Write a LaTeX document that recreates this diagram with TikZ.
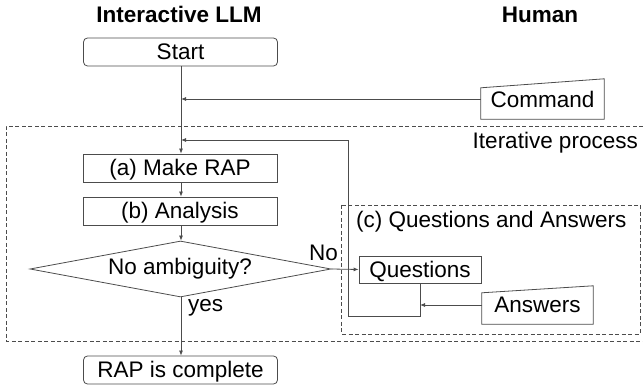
\documentclass[tikz,border=0pt]{standalone}
\usepackage{fontspec}
\setmainfont{Liberation Sans}
\usetikzlibrary{arrows.meta,shapes.geometric}
\begin{document}
\begin{tikzpicture}[x=1pt,y=-1pt,
  font=\fontsize{22.5}{26}\selectfont,
  ln/.style={draw=black!70, line width=0.8pt},
  arr/.style={ln, -{Latex[length=5pt,width=4pt]}},
  dsh/.style={draw=black!70, line width=0.7pt, dash pattern=on 4pt off 2.5pt},
  stepbox/.style={draw=black!70, line width=0.8pt, minimum width=194pt, minimum height=28pt, inner sep=0pt, text height=16pt, text depth=0pt},
  termbox/.style={stepbox, rounded corners=4pt},
  txt/.style={inner sep=0pt},
  ttl/.style={inner sep=0pt, font=\fontsize{22.5}{26}\selectfont\bfseries},
]
\useasboundingbox (0,0) rectangle (643,387);
% titles
\node[ttl, anchor=base] (tllm) at (179,23) {Interactive LLM};
\node[ttl, anchor=base] (thum) at (540,23) {Human};
% outer dashed region (right side cut by the picture edge)
\draw[dsh] (643,126) -- (6,126) -- (6,341) -- (643,341);
\node[txt, anchor=base east] (iter) at (638,149) {Iterative process};
% (c) region
\draw[dsh] (341,205) rectangle (640,334);
\node[txt, anchor=base west] (clab) at (356,228) {(c) Questions and Answers};
% LLM column
\node[termbox] (start) at (180.5,52) {Start};
\node[stepbox] (a) at (180,168) {(a) Make RAP};
\node[stepbox] (b) at (180,211) {(b) Analysis};
\node[draw=black!70, line width=0.8pt, shape=diamond, aspect=5.37, minimum width=301pt, minimum height=56pt, inner sep=0pt] (d) at (180.5,269) {};
\node[txt] (dtxt) at (180,269) {No ambiguity?};
\node[termbox] (done) at (180.5,370) {RAP is complete};
% Human column
\node[minimum width=123pt, minimum height=40pt, inner sep=0pt] (cmd) at (542.5,99) {\raisebox{-5pt}{Command}};
\draw[ln] (cmd.south west) -- (cmd.south east) -- (cmd.north east) -- ([yshift=-9pt]cmd.north west) -- cycle;
\node[draw=black!70, line width=0.8pt, minimum width=122pt, minimum height=27pt, inner sep=0pt, text height=16pt, text depth=0pt] (q) at (420,269.5) {Questions};
\node[minimum width=111pt, minimum height=38pt, inner sep=0pt] (ans) at (537.5,305) {\raisebox{-4.5pt}{Answers}};
\draw[ln] (ans.south west) -- (ans.south east) -- (ans.north east) -- ([yshift=-7pt]ans.north west) -- cycle;
% connectors
\coordinate (cmdin) at (181,99);
\coordinate (loopin) at (181,140);
\coordinate (qturn) at (420,316);
\coordinate (lb) at (348,316);
\coordinate (lt) at (348,140);
\coordinate (ansin) at (420,305);
\draw[arr] (start.south -| cmdin) -- (cmdin |- a.north);
\draw[arr] (cmd.west) -- (cmdin);
\draw[ln] (q.south) -- (qturn) -- (lb) -- (lt);
\draw[arr] (lt) -- (loopin);
\draw[arr] (a.south -| cmdin) -- (b.north -| cmdin);
\draw[arr] (b.south -| cmdin) -- (d.north -| cmdin);
\draw[arr] (d.east) -- (q.west);
\draw[arr] (ans.west) -- (ansin);
\draw[arr] (d.south -| cmdin) -- (done.north -| cmdin);
\node[txt] (no) at (323.5,253) {No};
\node[txt, anchor=base west] (yes) at (188,312) {yes};
\end{tikzpicture}
\end{document}
